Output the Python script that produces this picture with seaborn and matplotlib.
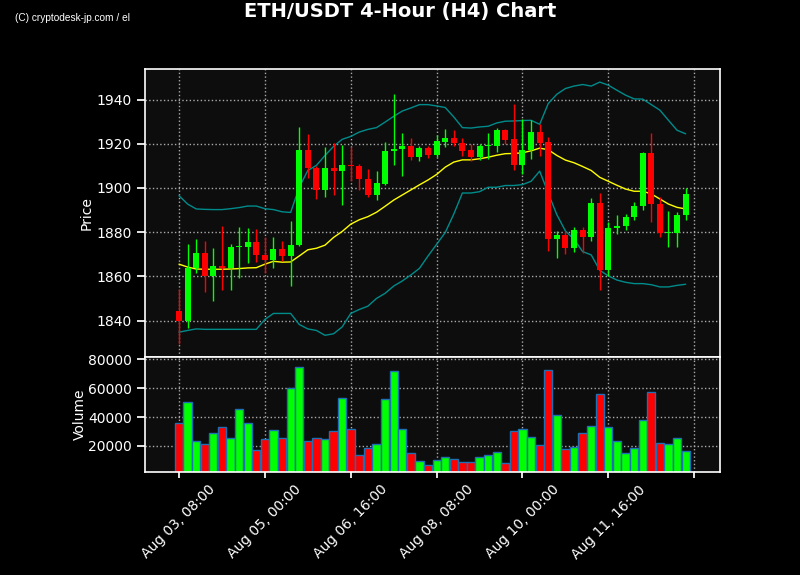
import pandas as pd
import numpy as np
import seaborn as sns
import matplotlib.pyplot as plt

# 4H candles, Aug 03 08:00 onward
times = pd.date_range('2023-08-03 08:00', periods=60, freq='4h')

opens = [1844.2, 1840.0, 1863.8, 1870.5, 1860.2, 1864.7, 1863.9, 1873.3, 1873.3, 1875.6,
         1869.8, 1867.6, 1872.3, 1869.0, 1874.2, 1917.0, 1909.2, 1898.9, 1909.2, 1907.6,
         1910.6, 1909.8, 1904.2, 1897.0, 1902.0, 1916.5, 1917.7, 1918.8, 1913.9, 1918.2,
         1914.8, 1920.8, 1922.7, 1920.5, 1917.0, 1913.9, 1919.1, 1918.9, 1926.4, 1922.0,
         1910.3, 1917.3, 1925.3, 1920.6, 1877.1, 1878.8, 1873.0, 1880.9, 1878.0, 1893.2,
         1862.7, 1881.8, 1882.6, 1886.7, 1891.7, 1915.6, 1892.7, 1879.4, 1879.8, 1887.9]
highs = [1854.4, 1874.5, 1876.8, 1875.8, 1872.7, 1882.6, 1874.8, 1882.1, 1881.7, 1881.2,
         1878.0, 1877.6, 1876.0, 1885.2, 1927.6, 1924.5, 1909.7, 1918.5, 1920.5, 1919.5,
         1918.5, 1910.9, 1908.6, 1907.6, 1920.8, 1942.7, 1925.0, 1922.7, 1919.2, 1919.2,
         1923.8, 1926.8, 1926.4, 1922.6, 1920.0, 1920.0, 1924.8, 1927.1, 1926.8, 1938.2,
         1931.4, 1930.9, 1929.1, 1923.0, 1880.3, 1880.6, 1882.1, 1882.4, 1895.5, 1897.6,
         1884.8, 1887.7, 1888.2, 1893.8, 1916.2, 1925.0, 1895.8, 1889.4, 1888.9, 1899.8]
lows = [1829.4, 1836.7, 1861.7, 1852.9, 1848.8, 1853.6, 1853.6, 1859.1, 1865.9, 1866.5,
        1861.5, 1863.6, 1867.0, 1855.6, 1873.8, 1904.5, 1895.0, 1895.8, 1896.8, 1892.4,
        1903.0, 1899.1, 1896.1, 1894.5, 1901.5, 1910.5, 1905.5, 1912.7, 1912.1, 1913.6,
        1913.9, 1918.5, 1919.2, 1914.4, 1912.4, 1912.7, 1913.2, 1916.2, 1920.0, 1907.9,
        1906.1, 1912.9, 1914.4, 1871.5, 1868.5, 1870.3, 1870.8, 1870.5, 1875.8, 1853.6,
        1860.2, 1879.1, 1880.9, 1885.5, 1890.0, 1884.7, 1878.0, 1873.3, 1873.3, 1885.5]
closes = [1840.0, 1863.9, 1870.5, 1860.2, 1864.7, 1863.9, 1873.3, 1873.6, 1875.6, 1869.8,
          1867.6, 1872.3, 1869.0, 1874.2, 1917.0, 1908.9, 1898.9, 1909.2, 1907.6, 1910.6,
          1909.8, 1903.9, 1897.0, 1902.4, 1916.5, 1917.7, 1918.8, 1913.9, 1918.2, 1914.8,
          1921.1, 1922.7, 1920.2, 1916.7, 1913.9, 1919.1, 1919.4, 1926.4, 1921.5, 1910.3,
          1917.3, 1925.3, 1920.3, 1877.1, 1878.8, 1873.0, 1880.9, 1878.0, 1893.2, 1862.7,
          1881.8, 1882.9, 1887.0, 1892.0, 1915.6, 1892.7, 1879.4, 1880.2, 1887.9, 1897.3]
volumes = [35900, 50300, 23400, 21600, 29000, 33100, 25700, 45500, 35900, 17200,
           24800, 31000, 25700, 60000, 74500, 23400, 25500, 24800, 30300, 53100,
           31700, 13800, 18600, 21400, 52400, 71700, 31700, 15200, 9700, 6900,
           10300, 12400, 11000, 9000, 9000, 12400, 13800, 15900, 8300, 30300,
           31700, 26200, 20700, 72400, 41400, 17900, 19300, 29000, 33800, 55900,
           33100, 23400, 15200, 18600, 37900, 57200, 22100, 21400, 25500, 16600]

# Moving average and bands
ma_mid = [1865.5, 1864.2, 1863.3, 1863.2, 1863.2, 1863.2, 1863.3, 1863.5, 1863.8, 1863.9,
          1865.5, 1866.8, 1866.4, 1866.5, 1869.2, 1872.0, 1872.7, 1874.1, 1877.6, 1880.3,
          1883.6, 1885.6, 1887.0, 1889.0, 1891.7, 1894.5, 1896.8, 1899.1, 1901.4, 1903.6,
          1906.1, 1909.4, 1911.7, 1912.7, 1912.7, 1913.2, 1913.9, 1914.8, 1915.5, 1915.6,
          1915.9, 1916.8, 1918.0, 1917.3, 1914.7, 1912.6, 1911.4, 1909.7, 1907.9, 1904.8,
          1903.0, 1901.2, 1899.5, 1898.5, 1898.5, 1897.3, 1895.0, 1892.7, 1891.2, 1890.5]
band_upper = [1896.5, 1892.7, 1890.5, 1890.3, 1890.2, 1890.2, 1890.6, 1891.1, 1891.8, 1891.8,
              1890.6, 1890.2, 1889.2, 1888.9, 1900.3, 1907.9, 1910.2, 1914.7, 1918.8, 1922.0,
              1923.3, 1925.3, 1926.5, 1927.3, 1929.8, 1932.4, 1934.8, 1936.2, 1937.7, 1937.7,
              1937.1, 1936.4, 1932.1, 1927.3, 1927.1, 1927.6, 1927.9, 1929.4, 1930.2, 1930.3,
              1930.5, 1930.6, 1928.8, 1938.2, 1942.4, 1945.0, 1946.1, 1946.8, 1946.1, 1947.9,
              1946.5, 1944.2, 1942.0, 1940.3, 1940.2, 1937.7, 1935.2, 1930.6, 1926.1, 1924.5]
band_lower = [1834.7, 1835.5, 1836.2, 1836.0, 1836.0, 1836.0, 1836.0, 1836.0, 1836.0, 1836.0,
              1840.5, 1843.2, 1843.2, 1843.2, 1838.2, 1836.2, 1835.5, 1833.3, 1834.0, 1837.1,
              1843.2, 1845.0, 1846.5, 1850.0, 1852.3, 1855.6, 1857.9, 1860.6, 1863.6, 1869.2,
              1874.5, 1879.8, 1888.2, 1897.7, 1897.7, 1898.3, 1900.3, 1900.3, 1901.1, 1901.1,
              1901.5, 1903.0, 1907.6, 1897.6, 1887.9, 1880.5, 1876.8, 1871.2, 1869.7, 1862.7,
              1860.2, 1858.3, 1857.3, 1856.7, 1856.7, 1856.2, 1855.2, 1855.2, 1855.9, 1856.4]

tick_times = pd.date_range('2023-08-03 08:00', periods=7, freq='40h')
tick_labels = ['Aug 03, 08:00', 'Aug 05, 00:00', 'Aug 06, 16:00', 'Aug 08, 08:00',
               'Aug 10, 00:00', 'Aug 11, 16:00', '']

df = pd.DataFrame({'time': times, 'open': opens, 'high': highs, 'low': lows,
                   'close': closes, 'volume': volumes,
                   'mid': ma_mid, 'upper': band_upper, 'lower': band_lower})
df['up'] = df['close'] >= df['open']
df['color'] = np.where(df['up'], '#00ff00', '#ff0000')

sns.set_theme(style='dark', rc={
    'figure.facecolor': 'black',
    'axes.facecolor': '#0d0d0d',
    'axes.edgecolor': 'white',
    'axes.labelcolor': 'white',
    'xtick.color': 'white',
    'ytick.color': 'white',
    'text.color': 'white',
    'xtick.bottom': True,
    'ytick.left': True,
})
plt.rcParams['font.family'] = ['DejaVu Sans']

fig = plt.figure(figsize=(8, 5.75), dpi=100)
ax = fig.add_axes([0.18125, 0.3791, 0.71875, 0.5009])
axv = fig.add_axes([0.18125, 0.1791, 0.71875, 0.2], sharex=ax)

hour4 = pd.Timedelta(hours=4)

# bands + MA
sns.lineplot(data=df, x='time', y='upper', ax=ax, color='#008b8b', linewidth=1)
sns.lineplot(data=df, x='time', y='lower', ax=ax, color='#008b8b', linewidth=1)
sns.lineplot(data=df, x='time', y='mid', ax=ax, color='yellow', linewidth=1)

# candles
ax.vlines(df['time'], df['low'], df['high'], colors=df['color'], linewidth=1, zorder=3)
body = (df['close'] - df['open']).abs().clip(lower=0.4)
ax.bar(df['time'], body, bottom=df[['open', 'close']].min(axis=1),
       width=0.7 * hour4, color=df['color'], edgecolor='none', linewidth=0, zorder=4)

# volume
axv.bar(df['time'], df['volume'], width=0.96 * hour4, color=df['color'],
        edgecolor='#1f6fb4', linewidth=1)

for a in (ax, axv):
    a.grid(True, linestyle=':', color='#aaaaaa', linewidth=1)
    for s in a.spines.values():
        s.set_color('white')
        s.set_linewidth(1.2)
    a.tick_params(labelsize=10, colors='white')

ax.set_xlim(times[0] - 3.96 * hour4, times[0] + 63.0 * hour4)
ax.set_yticks([1840, 1860, 1880, 1900, 1920, 1940])
ax.set_ylabel('Price', fontsize=10, labelpad=2)
ax.set_xlabel('')
ax.tick_params(axis='x', length=0, labelbottom=False)

axv.set_ylim(2000, 81500)
axv.set_yticks([20000, 40000, 60000, 80000])
axv.set_ylabel('Volume', fontsize=10, labelpad=1)
axv.set_xlabel('')
axv.set_xticks(tick_times)
axv.set_xticklabels(tick_labels, rotation=45, ha='center')
axv.tick_params(axis='x', length=4)

fig.suptitle('ETH/USDT 4-Hour (H4) Chart', fontsize=14, fontweight='bold',
             color='white', y=0.997)
fig.text(0.019, 0.963, '(C) cryptodesk-jp.com / el', fontsize=7.3, color='white',
         family=['Liberation Sans', 'DejaVu Sans'])

fig.savefig('out.png', dpi=100, facecolor='black')
